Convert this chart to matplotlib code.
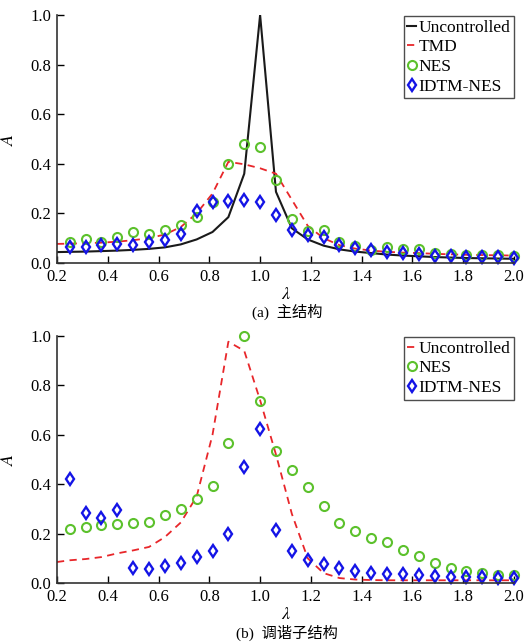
import matplotlib
matplotlib.use('Agg')
import matplotlib.pyplot as plt

plt.rcParams['font.family'] = ['Liberation Serif', 'Noto Sans CJK SC']
plt.rcParams['mathtext.fontset'] = 'stix'
plt.rcParams['font.size'] = 12

# 频率比 λ（标记点）
lam = [0.25, 0.3125, 0.375, 0.4375, 0.5, 0.5625, 0.625, 0.6875, 0.75, 0.8125,
       0.875, 0.9375, 1.0, 1.0625, 1.125, 1.1875, 1.25, 1.3125, 1.375, 1.4375,
       1.5, 1.5625, 1.625, 1.6875, 1.75, 1.8125, 1.875, 1.9375, 2.0]
# 曲线从 0.2 开始
lam_line = [0.2] + lam

# (a) 主结构
a_unctrl = [0.044, 0.045, 0.046, 0.048, 0.050, 0.053, 0.057, 0.063, 0.075, 0.095,
            0.125, 0.185, 0.36, 1.0, 0.287, 0.14, 0.095, 0.07, 0.055, 0.046,
            0.04, 0.034, 0.03, 0.027, 0.024, 0.022, 0.02, 0.019, 0.018, 0.017]
a_tmd = [0.077, 0.078, 0.08, 0.082, 0.086, 0.092, 0.10, 0.115, 0.145, 0.20,
         0.28, 0.408, 0.398, 0.382, 0.36, 0.255, 0.15, 0.10, 0.072, 0.058,
         0.05, 0.045, 0.042, 0.04, 0.037, 0.035, 0.033, 0.032, 0.031, 0.03]
a_nes = [0.086, 0.095, 0.085, 0.106, 0.126, 0.117, 0.133, 0.152, 0.186, 0.245,
         0.399, 0.48, 0.469, 0.333, 0.176, 0.13, 0.133, 0.085, 0.07, 0.052,
         0.066, 0.058, 0.055, 0.042, 0.038, 0.034, 0.033, 0.034, 0.028]
a_idtm = [0.063, 0.066, 0.073, 0.077, 0.073, 0.083, 0.093, 0.118, 0.208, 0.247,
          0.25, 0.254, 0.245, 0.194, 0.133, 0.113, 0.104, 0.073, 0.06, 0.052,
          0.044, 0.04, 0.035, 0.03, 0.028, 0.025, 0.024, 0.024, 0.022]

# (b) 调谐子结构
b_unctrl = [0.085, 0.092, 0.097, 0.105, 0.12, 0.132, 0.146, 0.186, 0.245, 0.35,
            0.60, 0.977, 0.94, 0.74, 0.52, 0.28, 0.10, 0.04, 0.02, 0.014,
            0.012, 0.011, 0.011, 0.011, 0.011, 0.011, 0.011, 0.011, 0.011, 0.011]
b_nes = [0.218, 0.227, 0.235, 0.239, 0.243, 0.247, 0.276, 0.30, 0.339, 0.392,
         0.565, 1.0, 0.735, 0.534, 0.457, 0.389, 0.312, 0.243, 0.209, 0.184,
         0.164, 0.132, 0.109, 0.081, 0.062, 0.049, 0.042, 0.034, 0.031]
b_idtm = [0.42, 0.284, 0.264, 0.296, 0.059, 0.058, 0.069, 0.08, 0.104, 0.131,
          0.20, 0.469, 0.624, 0.216, 0.13, 0.092, 0.076, 0.061, 0.049, 0.042,
          0.038, 0.035, 0.031, 0.027, 0.024, 0.023, 0.023, 0.022, 0.022]

green = '#5cc12c'
blue = '#1414e6'
red = '#e8262a'

fig = plt.figure(figsize=(5.25, 6.42), dpi=100)
W, H = 525, 642
ax1 = fig.add_axes([57 / W, (H - 263) / H, 457 / W, 248 / H])
ax2 = fig.add_axes([57 / W, (H - 583) / H, 457 / W, 247 / H])

nes_kw = dict(ls='none', marker='o', ms=6.5, mfc='none', mec=green, mew=1.5,
              clip_on=False, label='NES')
idtm_kw = dict(ls='none', marker='d', ms=6.5, mfc='none', mec=blue, mew=1.7,
               clip_on=False, label='IDTM-NES')

ax1.plot(lam_line, a_unctrl, color='#1a1a1a', lw=1.5, label='Uncontrolled')
ax1.plot(lam_line, a_tmd, color=red, lw=1.3, ls=(0, (4, 3)), label='TMD')
ax1.plot(lam, a_nes, **nes_kw)
ax1.plot(lam, a_idtm, **idtm_kw)

ax2.plot(lam_line, b_unctrl, color=red, lw=1.3, ls=(0, (4, 3)), label='Uncontrolled')
ax2.plot(lam, b_nes, **nes_kw)
ax2.plot(lam, b_idtm, **idtm_kw)

for ax in (ax1, ax2):
    ax.set_xlim(0.2, 2.0)
    ax.set_ylim(0.0, 1.0)
    ax.set_xticks([0.2, 0.4, 0.6, 0.8, 1.0, 1.2, 1.4, 1.6, 1.8, 2.0])
    ax.set_yticks([0.0, 0.2, 0.4, 0.6, 0.8, 1.0])
    ax.xaxis.set_major_formatter(matplotlib.ticker.FormatStrFormatter('%.1f'))
    ax.yaxis.set_major_formatter(matplotlib.ticker.FormatStrFormatter('%.1f'))
    ax.spines['top'].set_visible(False)
    ax.spines['right'].set_visible(False)
    for s in ('left', 'bottom'):
        ax.spines[s].set_linewidth(1.2)
        ax.spines[s].set_color('#333333')
    ax.tick_params(direction='in', length=5, width=1, labelsize=12, pad=4)
    ax.set_ylabel('$A$', fontsize=13)
    ax.yaxis.set_label_coords(-0.088, 0.5)
    ax.set_xlabel('$\\lambda$', fontsize=13, labelpad=1)
    leg = ax.legend(loc='upper right', bbox_to_anchor=(1.0, 0.995), fontsize=12.5,
                    frameon=True, fancybox=False, handlelength=0.5,
                    handletextpad=0.15, borderpad=0.2, labelspacing=0.2,
                    borderaxespad=0.0)
    leg.get_frame().set_edgecolor('#222222')
    leg.get_frame().set_linewidth(1.0)

fig.text(287 / W, 1 - 312 / H, '(a)  主结构', ha='center', va='center', fontsize=11)
fig.text(287 / W, 1 - 633 / H, '(b)  调谐子结构', ha='center', va='center', fontsize=11)

fig.savefig('out.png', dpi=100)
